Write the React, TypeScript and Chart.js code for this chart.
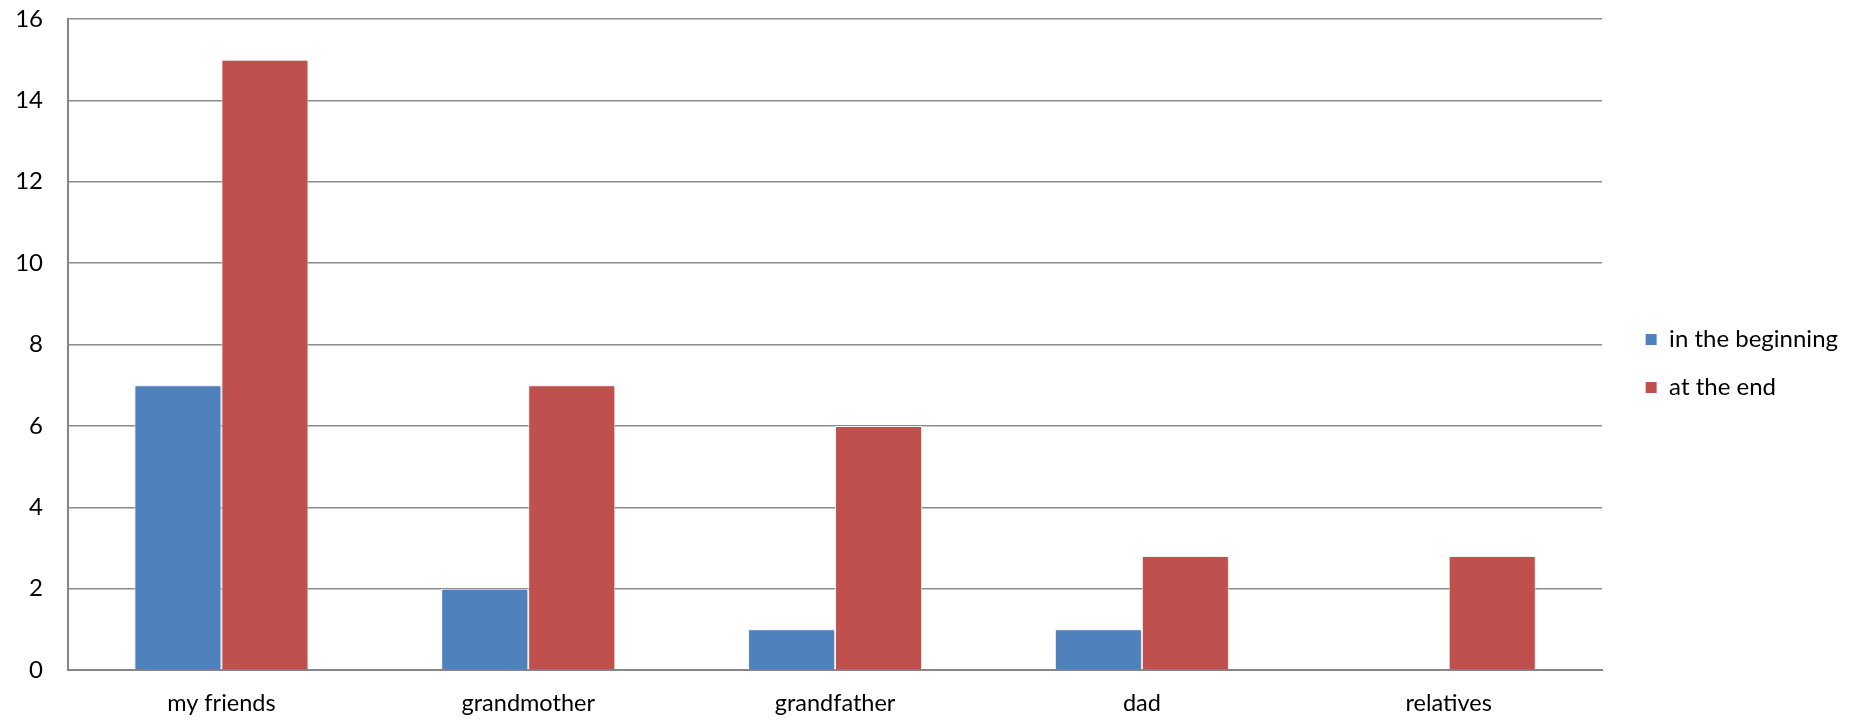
import React, { useEffect, useRef } from "react";
import { Chart, registerables } from "chart.js";

Chart.register(...registerables);

const categories = ["my friends", "grandmother", "grandfather", "dad", "relatives"];
const seriesNames = ["in the beginning", "at the end"];
const beginningValues: (number | null)[] = [7, 2, 1, 1, null];
const endValues: (number | null)[] = [15, 7, 6, 2.8, 2.8];
const yTicks = [0, 2, 4, 6, 8, 10, 12, 14, 16];

const FONT = "Lato, 'Open Sans', sans-serif";
const LEGEND_SHIFT_X = 19;
const LEGEND_SHIFT_Y = -5;

const shadowPlugin = {
  id: "barShadow",
  beforeDatasetsDraw(chart: any) {
    const ctx = chart.ctx;
    ctx.save();
    ctx.shadowColor = "rgba(0,0,0,0.25)";
    ctx.shadowBlur = 5;
    ctx.shadowOffsetX = 1;
    ctx.shadowOffsetY = 1;
  },
  afterDatasetsDraw(chart: any) {
    chart.ctx.restore();
  },
};

const legendShift = {
  id: "legendShift",
  afterLayout(chart: any) {
    const lg = chart.legend;
    if (lg) {
      lg._base = { left: lg.left, right: lg.right, top: lg.top, bottom: lg.bottom };
    }
  },
  beforeDraw(chart: any) {
    const lg = chart.legend;
    if (lg && lg._base) {
      lg.left = lg._base.left + LEGEND_SHIFT_X;
      lg.right = lg._base.right + LEGEND_SHIFT_X + 40;
      lg.top = lg._base.top + LEGEND_SHIFT_Y;
      lg.bottom = lg._base.bottom + LEGEND_SHIFT_Y;
    }
  },
};

export default function App() {
  const ref = useRef<HTMLCanvasElement | null>(null);
  useEffect(() => {
    if (!ref.current) return;
    const chart = new Chart(ref.current, {
      type: "bar",
      data: {
        labels: categories,
        datasets: [
          {
            label: seriesNames[0],
            data: beginningValues,
            backgroundColor: "#4F81BD",
            borderColor: "#ffffff",
            borderWidth: 1,
          },
          {
            label: seriesNames[1],
            data: endValues,
            backgroundColor: "#C0504D",
            borderColor: "#ffffff",
            borderWidth: 1,
          },
        ],
      },
      options: {
        animation: false,
        events: [],
        responsive: true,
        maintainAspectRatio: false,
        layout: { padding: { left: 14, top: 19, right: 34, bottom: 3 } },
        datasets: {
          bar: { categoryPercentage: 0.567, barPercentage: 1 },
        },
        plugins: {
          legend: {
            position: "right",
            labels: {
              boxWidth: 12,
              boxHeight: 12,
              padding: 24,
              color: "#000",
              font: { family: FONT, size: 24 },
            },
          },
          tooltip: { enabled: false },
        },
        scales: {
          x: {
            grid: { display: false, drawTicks: false },
            border: { display: true, color: "#868686", width: 2 },
            ticks: { color: "#000", padding: 19, font: { family: FONT, size: 23.5 } },
            afterFit(axis: any) {
              axis.height = 48;
              axis.paddingLeft = 0;
              axis.paddingRight = 0;
            },
          },
          y: {
            min: 0,
            max: 16,
            afterBuildTicks(axis: any) {
              axis.ticks = yTicks.map((v) => ({ value: v }));
            },
            grid: { color: "#8c8c8c", lineWidth: 1.5, drawTicks: false },
            border: { display: true, color: "#868686", width: 2 },
            ticks: { color: "#000", padding: 25, font: { family: FONT, size: 24 } },
            afterFit(axis: any) {
              axis.width = 54;
              axis.paddingTop = 0;
              axis.paddingBottom = 0;
            },
          },
        },
      },
      plugins: [shadowPlugin, legendShift],
    });
    return () => chart.destroy();
  }, []);
  return (
    <div style={{ position: "fixed", left: 0, top: 0, width: 1863, height: 721, background: "#fff" }}>
      <canvas ref={ref} />
    </div>
  );
}
